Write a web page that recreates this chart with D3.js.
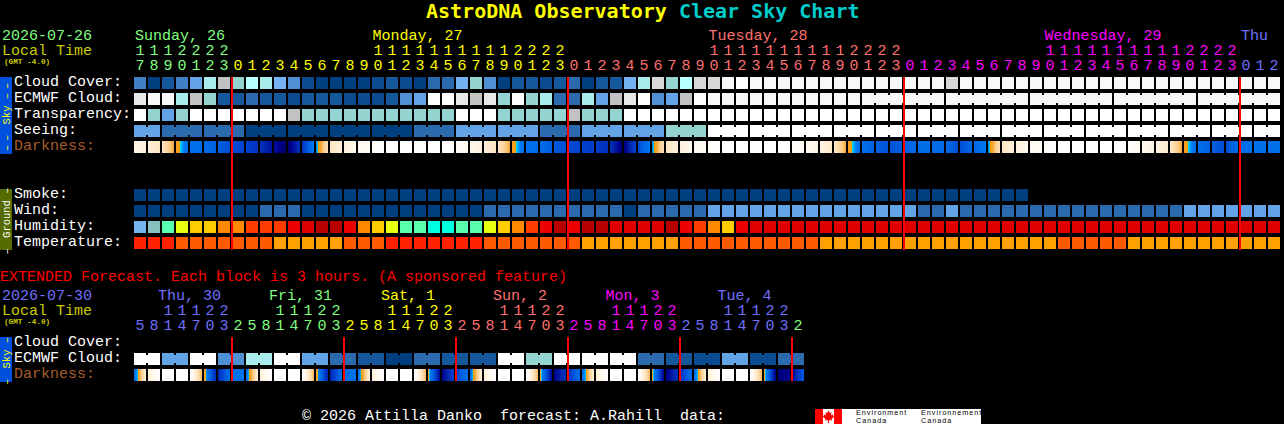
<!DOCTYPE html>
<html><head><meta charset="utf-8">
<script src="https://cdn.jsdelivr.net/npm/d3@7/dist/d3.min.js"></script>
<style>
html,body{margin:0;padding:0;background:#000;overflow:hidden}
svg{display:block}
text{font-family:"Liberation Mono",monospace;font-size:15px;white-space:pre;}
</style></head><body><div id="chart"></div>
<script>
// ---------- data ----------
const hours = [17,18,19,20,21,22,23,
 0,1,2,3,4,5,6,7,8,9,10,11,12,13,14,15,16,17,18,19,20,21,22,23,
 0,1,2,3,4,5,6,7,8,9,10,11,12,13,14,15,16,17,18,19,20,21,22,23,
 0,1,2,3,4,5,6,7,8,9,10,11,12,13,14,15,16,17,18,19,20,21,22,23,
 0,1,2];
const extHours = [5,8,11,14,17,20,23,
 2,5,8,11,14,17,20,23, 2,5,8,11,14,17,20,23, 2,5,8,11,14,17,20,23,
 2,5,8,11,14,17,20,23, 2,5,8,11,14,17,20,23, 2];
const dayNames = ["Sunday, 26","Monday, 27","Tuesday, 28","Wednesday, 29","Thu"];
const extDayNames = ["Thu, 30","Fri, 31","Sat, 1","Sun, 2","Mon, 3","Tue, 4"];
const rowNames = ["Cloud Cover:","ECMWF Cloud:","Transparency:","Seeing:","Darkness:"];
const groundNames = ["Smoke:","Wind:","Humidity:","Temperature:"];
const extRowNames = ["Cloud Cover:","ECMWF Cloud:","Darkness:"];

// sky class: 0 = clear/excellent (deep blue) ... 15 = overcast/poor (white)
const cloud = [4,0,2,4,6,9,11,8,10,9,7,5,1,0,0,0,0,1,2,1,0,3,3,7,8,5,0,2,2,1,2,3,0,2,2,7,9,12,8,10,12,12,
 14,15,14,14,14,14,14,14,14,14,14,14,14,14,14,14,12,14,14,14,14,14,14,14,14,14,14,14,14,14,14,14,14,14,14,14,14,14,14,14];
const ecmwf = [13,14,14,9,11,8,2,2,3,2,2,1,2,2,2,1,1,1,2,5,6,15,15,13,11,13,8,15,8,9,3,3,9,6,11,13,15,5,6,11,15,
 14,14,14,14,14,14,14,14,14,14,14,
 14,14,14,14,14,14,14,14,14,14,14,14,14,14,14,14,14,14,14,14,14,14,14,14,14,14,14,14,14,14];
const transparency = [15,8,6,8,15,15,15,15,15,15,15,11,8,8,8,8,8,8,8,8,8,8,8,15,15,15,8,8,8,8,8,11,8,8,8,
 15,15,15,15,15,15,15,15,15,15,15,15,15,15,15,15,15,15,15,15,15,15,15,15,15,15,15,15,15,15,15,15,15,15,15,15,15,15,15,15,15,15,15,15,15,15,15];
const seeing = [6,6,3,3,3,3,3,3,0,0,0,0,0,0,0,0,0,0,0,0,3,3,3,6,6,6,6,6,6,3,3,3,6,6,6,6,6,6,8,8,8,
 15,15,15,15,15,15,15,15,15,15,15,15,15,15,15,15,15,15,15,15,15,15,15,15,15,15,15,15,15,15,15,15,15,15,15,15,15,15,15,15,15];
const smoke = [0,0,0,0,0,0,0,0,0,0,0,0,0,0,0,0,0,0,0,0,0,0,0,0,0,0,0,0,0,0,0,0,
 0,0,0,0,0,0,0,0,0,0,0,0,0,0,0,0,0,0,0,0,0,0,0,0,0,0,0,0,0,0,0,0];
const wind = [0,0,0,0,0,0,0,0,0,3,3,3,0,0,0,0,0,0,0,0,0,0,0,0,0,3,3,3,3,3,3,3,3,3,3,0,3,3,3,3,3,
 6,6,6,6,6,6,6,6,6,6,6,6,6,6,6,3,3,6,3,3,3,3,3,3,3,3,3,3,3,3,3,3,3,3,6,6,6,6,6,6,6];
// humidity class, dry -> wet
const humidity = [0,1,3,4,5,5,6,6,7,7,7,8,9,10,10,8,6,5,4,3,3,2,2,3,3,4,5,6,7,8,10,8,10,10,9,9,9,9,10,8,7,6,5,
 8,9,9,9,9,9,9,9,9,9,9,9,9,9,9,9,9,9,9,9,9,9,9,9,9,9,9,9,9,9,9,9,9,9,9,9,9,9,9];
// temperature class
const temperature = [0,0,0,1,1,1,1,1,1,1,2,2,2,2,2,1,1,1,0,0,0,0,0,0,0,1,1,1,1,1,1,1,2,2,2,2,2,2,2,
 1,1,1,1,1,1,1,1,1,1,2,2,2,2,2,2,2,2,2,2,2,2,2,2,2,2,2,1,1,1,1,1,2,2,2,2,2,2,2,2,2,2,2];
// limiting-magnitude style darkness at each hour edge (day < 0 < night)
const darkness = [-3,-2.6,-2,-0.5,1,1.2,2,2.6,3,3.6,4.6,5.6,3.6,0.5,-1.9,-2.6,-3.2,-3.7,-4,-4,-4,-4,-4,
 -3.8,-3.2,-2.6,-2,-0.5,1,1.2,2.2,2.6,3,3.2,3.6,5.4,2.8,0.5,-1.9,-2.6,-3.2,-3.7,-4,-4,-4,-4,-4,
 -3.9,-3.4,-2.9,-2.2,-0.5,1,2,2.4,2,1.2,1.2,1.4,2.6,1.6,0.5,-1.9,-2.6,-3.2,-3.7,-4,-4,-4,-4,-4,
 -3.9,-3.3,-2.8,-2.2,-0.5,1,2,2.6,1.2,1,1,1];
const extEcmwf = [15,6,15,5,9,15,6,3,2,0,3,2,2,15,8,15,15,15,3,2,1,6,1,3];
const extDarkness = [1.2,-2.5,-4,-4,-4,-0.6,4,1, 1,-2.5,-4,-4,-4,-0.6,4.2,1.2, 1,-2.5,-4,-4,-4,-0.6,5,3,
 1,-2.5,-4,-4,-4,-0.6,5,3.5, 1.2,-2.5,-4,-4,-4,-0.6,5.2,3.5, 1.2,-2.5,-4,-4,-4,-0.6,5.4,5, 2];
const footerText = "© 2026 Attilla Danko  forecast: A.Rahill  data:";

// ---------- styles ----------
const skyColor = d3.scaleOrdinal(d3.range(16),
 ["#003f7f","#0a4c8f","#14579b","#2a6aad","#4080c4","#4f90d4","#62a3e6","#74b2f4",
  "#94d4d0","#a9ecec","#b8ffff","#c2c2c2","#d8d8d8","#e8e8e8","#f8f8f8","#ffffff"]);
const humColor = d3.scaleOrdinal(d3.range(11),
 ["#76b4f0","#88c0c0","#00ffe0","#5affaf","#e8ff10","#ffcc00","#ff8800","#ff3c00","#ee0000","#e00000","#b80000"]);
const tempColor = d3.scaleOrdinal([0,1,2],["#ff2200","#ff5a00","#ffa000"]);
const darkColor = d3.scaleLinear()
 .domain([-4,-3,-2,-1,-0.3,0,0.05,0.5,2,3,4,5,6])
 .range(["#ffffff","#fff6e8","#fde6c4","#fbca84","#f89c18","#f0a800","#00d0ff","#0078f0","#0060e0","#0040d0","#0028b0","#000090","#000050"])
 .clamp(true);
const weekdayColor = ["#80ff80","#ffff00","#ff7070","#ff00ff","#7070ff"];
const x = d3.scaleBand().domain(d3.range(hours.length)).range([134,134+hours.length*14-2]).paddingInner(1/7);
const rowY = d3.scaleLinear().domain([0,1]).range([77,93]);
const groundY = d3.scaleLinear().domain([0,1]).range([189,205]);
const extY = d3.scaleLinear().domain([0,1]).range([337,353]);
const w = x.bandwidth();

const svg = d3.select("#chart").append("svg").attr("width",1284).attr("height",424);

function put(txt,xp,yp,fill,extra){
  const t = svg.append("text").attr("x",xp).attr("y",yp).attr("fill",fill).text(txt);
  if(extra) extra(t);
  return t;
}
// title
const title = svg.append("text").attr("x",426).attr("y",18)
 .style("font-family","'DejaVu Sans Mono',monospace").style("font-weight","bold").style("font-size","20px");
title.append("tspan").attr("fill","#ffff00").text("AstroDNA Observatory ");
title.append("tspan").attr("fill","#00cccc").text("Clear Sky Chart");

function header(dateTxt,dateCol,y0){
  put(dateTxt,2,y0,dateCol);
  put("Local Time",2,y0+15,"#cccc00");
  put("(GMT -4.0)",4,y0+24,"#cccc00",t=>t.style("font-size","7.7px").style("font-weight","bold"));
}
header("2026-07-26","#80ff80",40);
header("2026-07-30","#7070ff",300);

// hour digits
function digits(hs,y0,startDay){
  let day=startDay;
  const rec=hs.map((h,i)=>{ if(i>0&&h<hs[i-1]) day++; return {h,i,col:weekdayColor[day%5]}; });
  const g=svg.append("g").attr("text-anchor","middle");
  g.selectAll(".tens").data(rec.filter(d=>d.h>=10)).join("text")
   .attr("x",d=>x(d.i)+w/2).attr("y",y0).attr("fill",d=>d.col).text(d=>Math.floor(d.h/10));
  g.selectAll(".ones").data(rec,d=>d.i).join("text")
   .attr("x",d=>x(d.i)+w/2).attr("y",y0+15).attr("fill",d=>d.col).text(d=>d.h%10);
}
digits(hours,55,0);
digits(extHours,315,4);

[135,372.5,708.5,1044.5,1241].forEach((p,i)=>put(dayNames[i],p,40,weekdayColor[i]));
[158,269,381,493,605.5,717.5].forEach((p,i)=>put(extDayNames[i],p,300,weekdayColor[[4,0,1,2,3,4][i]]));

// row labels
rowNames.forEach((n,i)=>put(n,14,rowY(i)+9,n[0]==="D"?"#a85c2c":"#ffffff"));
groundNames.forEach((n,i)=>put(n,14,groundY(i)+8.5,"#ffffff"));
extRowNames.forEach((n,i)=>put(n,14,extY(i)+9,n[0]==="D"?"#a85c2c":"#ffffff"));

// cells
function cells(vals,y,color){
  svg.append("g").attr("shape-rendering","crispEdges").selectAll("rect").data(vals).join("rect")
   .attr("x",(d,i)=>x(i)).attr("y",y).attr("width",w).attr("height",w).attr("fill",d=>color(d));
}
// blocks: cells joined by a narrower bridge inside a forecast block
function bridges(vals,y,color,joined){
  svg.append("g").attr("shape-rendering","crispEdges").selectAll("rect")
   .data(vals.map((v,i)=>({v,i})).filter(d=>d.i<vals.length-1&&joined(d.i))).join("rect")
   .attr("x",d=>x(d.i)+w).attr("y",y+2).attr("width",x.step()-w).attr("height",w-4).attr("fill",d=>color(d.v));
}
function darkRow(edges,y){
  const g=svg.append("g").attr("shape-rendering","crispEdges");
  const slices=[];
  d3.pairs(edges).forEach(([a,b],i)=>{
    const f=d3.interpolateNumber(a,b);
    d3.range(w).forEach(k=>slices.push({i,k,v:f((k+0.5)/w)}));
  });
  g.selectAll("rect").data(slices).join("rect")
   .attr("x",d=>x(d.i)+d.k).attr("y",y).attr("width",1).attr("height",w)
   .attr("fill",d=>darkColor(d.v));
}
cells(cloud,rowY(0),skyColor);
cells(ecmwf,rowY(1),skyColor);
bridges(ecmwf,rowY(1),skyColor,i=>i>=52&&(i-52)%6!==5);
cells(transparency,rowY(2),skyColor);
cells(seeing,rowY(3),skyColor);
bridges(seeing,rowY(3),skyColor,i=>i===0||(i>=2&&(i-2)%3!==2));
darkRow(darkness,rowY(4));
cells(smoke,groundY(0),skyColor);
cells(wind,groundY(1),skyColor);
cells(humidity,groundY(2),humColor);
cells(temperature,groundY(3),tempColor);

const extCells=extEcmwf.flatMap(v=>[v,v]);
cells(extCells,extY(1),skyColor);
bridges(extCells,extY(1),skyColor,i=>i%2===0);
darkRow(extDarkness,extY(2));

// midnight lines
function midnights(hs,test,y0,y1){
  svg.append("g").attr("shape-rendering","crispEdges").selectAll("rect")
   .data(d3.range(hs.length).filter(test)).join("rect")
   .attr("x",i=>x(i)-1).attr("y",y0).attr("width",2).attr("height",y1-y0).attr("fill","#ff0000");
}
midnights(hours,i=>hours[i]===0,77,250);
midnights(extHours,i=>i>0&&extHours[i]<extHours[i-1],337,381);

// side bands
function band(y0,y1,fill,col,dash,word,cy){
  svg.append("rect").attr("x",0).attr("y",y0).attr("width",12).attr("height",y1-y0).attr("fill",fill).attr("shape-rendering","crispEdges");
  const t=svg.append("text").attr("transform",`translate(9.5,${cy}) rotate(-90)`).attr("text-anchor","middle").attr("fill",col)
    .style("font-size","10.5px");
  t.append("tspan").style("letter-spacing","4px").text(dash);
  t.append("tspan").text(" "+word+" ");
  t.append("tspan").style("letter-spacing","4px").text(dash);
}
band(77,154,"#0050e0","#ffff00","––","Sky",115);
band(189,250,"#556b00","#ffffff","–","Ground",219);
band(337,382,"#0050e0","#ffff00","–","Sky",359);

put("EXTENDED Forecast. Each block is 3 hours. (A sponsored feature)",0,281,"#ff0000");
put(footerText,302,420,"#ffffff");

// Environment Canada logo
const logo=svg.append("g");
logo.append("rect").attr("x",815).attr("y",409).attr("width",166).attr("height",15).attr("fill","#fff").attr("shape-rendering","crispEdges");
logo.append("rect").attr("x",815).attr("y",409).attr("width",8).attr("height",15).attr("fill","#f00").attr("shape-rendering","crispEdges");
logo.append("rect").attr("x",834).attr("y",409).attr("width",8).attr("height",15).attr("fill","#f00").attr("shape-rendering","crispEdges");
logo.append("path").attr("transform","translate(828.5,416.5)").attr("fill","#f00")
 .attr("d","M0,-6L1.5,-3.5L3,-4.2L2.5,-1L5,-2.5L4.5,-0.8L6,0L3,2.5L3.5,4L0.6,3.6L0.6,6.5L-0.6,6.5L-0.6,3.6L-3.5,4L-3,2.5L-6,0L-4.5,-0.8L-5,-2.5L-2.5,-1L-3,-4.2L-1.5,-3.5Z");
[[856,"Environment"],[921,"Environnement"]].forEach(([px,s])=>{
  [[414.5,s],[423,"Canada"]].forEach(([py,tx])=>{
    logo.append("text").attr("x",px).attr("y",py).attr("fill","#000")
     .style("font-family","'Liberation Sans',sans-serif").style("font-size","7.2px").style("letter-spacing","1px").text(tx);
  });
});
</script></body></html>
